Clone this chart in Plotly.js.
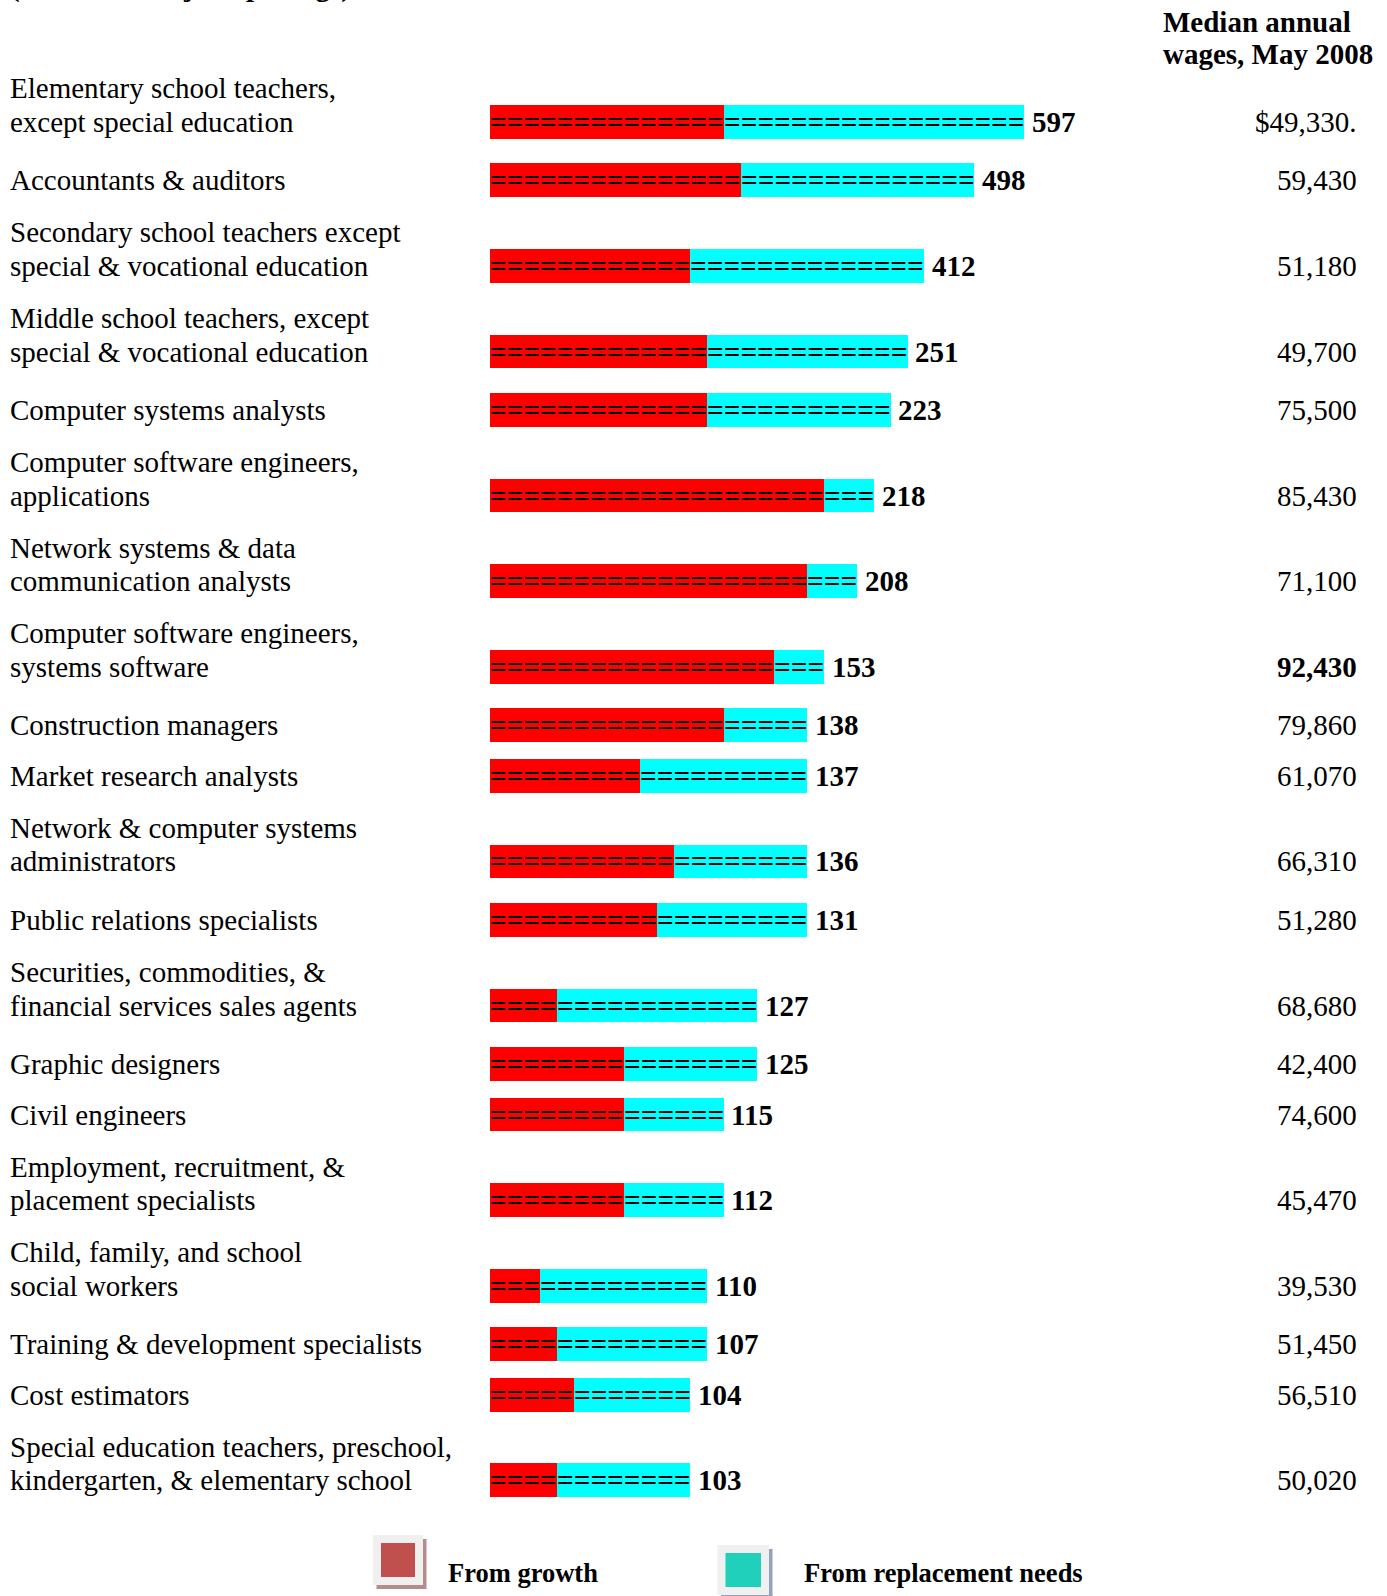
<!DOCTYPE html>
<html><head><meta charset="utf-8">
<script src="https://cdn.plot.ly/plotly-3.0.1.min.js"></script>
<style>html,body{margin:0;padding:0;background:#fff}</style>
</head><body><div id="chart" style="width:1387px;height:1596px"></div>
<script>
// ---------------- data ----------------
const occupations = [
  "Elementary school teachers,<br>except special education",
  "Accountants & auditors",
  "Secondary school teachers except<br>special & vocational education",
  "Middle school teachers, except<br>special & vocational education",
  "Computer systems analysts",
  "Computer software engineers,<br>applications",
  "Network systems & data<br>communication analysts",
  "Computer software engineers,<br>systems software",
  "Construction managers",
  "Market research analysts",
  "Network & computer systems<br>administrators",
  "Public relations specialists",
  "Securities, commodities, &<br>financial services sales agents",
  "Graphic designers",
  "Civil engineers",
  "Employment, recruitment, &<br>placement specialists",
  "Child, family, and school<br>social workers",
  "Training & development specialists",
  "Cost estimators",
  "Special education teachers, preschool,<br>kindergarten, & elementary school"
];
// total job openings (thousands), as printed next to each bar
const totalOpenings = [597, 498, 412, 251, 223, 218, 208, 153, 138, 137, 136, 131, 127, 125, 115, 112, 110, 107, 104, 103];
// bar segments, counted in "=" marks as drawn
const growthMarks      = [14, 15, 12, 13, 13, 20, 19, 17, 14, 9, 11, 10, 4, 8, 8, 8, 3, 4, 5, 4];
const replacementMarks = [18, 14, 14, 12, 11, 3, 3, 3, 5, 10, 8, 9, 12, 8, 6, 6, 10, 9, 7, 8];
const medianWages = ["$49,330.", "59,430", "51,180", "49,700", "75,500", "85,430", "71,100", "92,430", "79,860", "61,070",
                     "66,310", "51,280", "68,680", "42,400", "74,600", "45,470", "39,530", "51,450", "56,510", "50,020"];
const seriesNames = ["From growth", "From replacement needs"];
const wageHeader = ["Median annual", "wages, May 2008"];
const subtitle = "(thousands of job openings)";

// ---------------- layout helpers ----------------
const W = 1387, H = 1596;
const SERIF = "Liberation Serif, Times New Roman, serif";
const LINE = 33.5;          // text line pitch
const UNIT_PX = 16.7;       // width of one "=" mark
const X0 = 490;             // bar start (px)
const XMAX = 40;
const px = v => v / W;
const py = v => 1 - v / H;

// row positions follow the text flow of the labels
const rowY = [];
let yCur = 121.8;
occupations.forEach((lab, i) => {
  if (i > 0) {
    const two = lab.includes('<br>');
    const prevTwo = occupations[i - 1].includes('<br>');
    yCur += two ? 85.6 : (prevTwo ? 58.5 : 50.5);
  }
  rowY.push(yCur);
});

const traces = [
  {
    type: 'bar', orientation: 'h', name: seriesNames[0],
    x: growthMarks, y: rowY, width: 33.7,
    marker: { color: '#FF0000', line: { width: 0 } },
    hoverinfo: 'skip', showlegend: false
  },
  {
    type: 'bar', orientation: 'h', name: seriesNames[1],
    x: replacementMarks, y: rowY, width: 33.7,
    marker: { color: '#00FFFF', line: { width: 0 } },
    hoverinfo: 'skip', showlegend: false
  }
];

const annotations = [];
const eqFont = { family: SERIF, size: 29.3, color: '#000', weight: 'bold' };
rowY.forEach((y, i) => {
  const g = growthMarks[i], r = replacementMarks[i];
  annotations.push({ x: 0, y: y, xref: 'x', yref: 'y', text: '='.repeat(g), showarrow: false,
    xanchor: 'left', yanchor: 'middle', borderpad: 0, borderwidth: 0, font: eqFont });
  annotations.push({ x: g, y: y, xref: 'x', yref: 'y', text: '='.repeat(r), showarrow: false,
    xanchor: 'left', yanchor: 'middle', borderpad: 0, borderwidth: 0, font: eqFont });
  annotations.push({ x: g + r, y: y, xref: 'x', yref: 'y', text: String(totalOpenings[i]), showarrow: false,
    xanchor: 'left', yanchor: 'middle', xshift: 7.5, borderpad: 0, borderwidth: 0,
    font: { family: SERIF, size: 29, color: '#000', weight: 'bold' } });
  // labels (each line placed separately)
  const lines = occupations[i].split('<br>');
  lines.forEach((ln, k) => {
    annotations.push({ x: px(10), y: y, xref: 'paper', yref: 'y', text: ln, showarrow: false,
      xanchor: 'left', yanchor: 'middle', yshift: (lines.length - 1 - k) * LINE, borderpad: 0, borderwidth: 0,
      font: { family: SERIF, size: 29, color: '#000' } });
  });
});

// wages column
const wageNums = medianWages.map(s => parseFloat(s.replace(/[^0-9.]/g, '')));
const maxWage = Math.max(...wageNums);
rowY.forEach((y, i) => {
  annotations.push({ x: px(1357), y: y, xref: 'paper', yref: 'y', text: medianWages[i], showarrow: false,
    xanchor: 'right', yanchor: 'middle', borderpad: 0, borderwidth: 0,
    font: { family: SERIF, size: 29, color: '#000', weight: wageNums[i] === maxWage ? 'bold' : 'normal' } });
});
wageHeader.forEach((t, k) => {
  annotations.push({ x: px(1163), y: py(22 + k * 31.5), xref: 'paper', yref: 'paper', text: t, showarrow: false,
    xanchor: 'left', yanchor: 'middle', borderpad: 0, borderwidth: 0,
    font: { family: SERIF, size: 29, color: '#000', weight: 'bold' } });
});
// cut-off subtitle at the very top
annotations.push({ x: px(10), y: 1, xref: 'paper', yref: 'paper', text: subtitle, showarrow: false,
  xanchor: 'left', yanchor: 'bottom', yshift: -3.3, borderpad: 0, borderwidth: 0,
  font: { family: SERIF, size: 29, color: '#000', weight: 'bold' } });

// legend
const legendItems = [
  { frame: [373, 1535, 423, 1585], shadow: '#B58C8C', fill: '#C0504D', textX: 448 },
  { frame: [717.5, 1545, 769, 1595], shadow: '#94A2B8', fill: '#20D0BA', textX: 803.6 }
];
const shapes = [];
legendItems.forEach((it, k) => {
  const [x0, y0, x1, y1] = it.frame;
  shapes.push({ type: 'rect', xref: 'paper', yref: 'paper', x0: px(x0 + 3.5), x1: px(x1 + 3.5), y0: py(y0 + 4), y1: py(y1 + 4),
    fillcolor: it.shadow, line: { width: 0 }, layer: 'above' });
  shapes.push({ type: 'rect', xref: 'paper', yref: 'paper', x0: px(x0), x1: px(x1), y0: py(y0), y1: py(y1),
    fillcolor: '#F0F0F0', line: { width: 0 }, layer: 'above' });
  shapes.push({ type: 'rect', xref: 'paper', yref: 'paper', x0: px(x0 + 8), x1: px(x1 - 8), y0: py(y0 + 8), y1: py(y1 - 8),
    fillcolor: it.fill, line: { width: 0 }, layer: 'above' });
  annotations.push({ x: px(it.textX), y: py(1573), xref: 'paper', yref: 'paper', text: seriesNames[k], showarrow: false,
    xanchor: 'left', yanchor: 'middle', borderpad: 0, borderwidth: 0,
    font: { family: SERIF, size: 26.5, color: '#000', weight: 'bold' } });
});

const layout = {
  width: W, height: H,
  margin: { l: 0, r: 0, t: 0, b: 0, pad: 0 },
  paper_bgcolor: '#FFFFFF', plot_bgcolor: '#FFFFFF',
  barmode: 'stack', bargap: 0,
  showlegend: false,
  xaxis: { domain: [px(X0), px(X0 + XMAX * UNIT_PX)], range: [0, XMAX], visible: false, fixedrange: true },
  yaxis: { domain: [0, 1], range: [H, 0], visible: false, fixedrange: true },
  annotations: annotations,
  shapes: shapes
};

Plotly.newPlot('chart', traces, layout, { displayModeBar: false, staticPlot: true });
</script>
</body></html>
